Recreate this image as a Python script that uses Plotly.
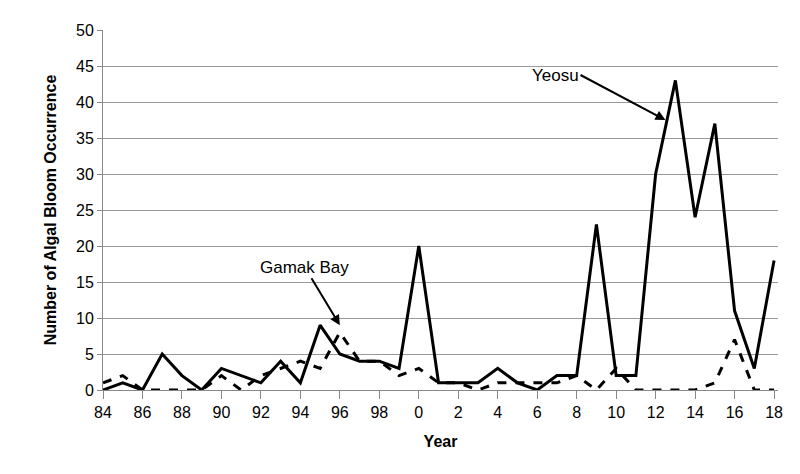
import plotly.graph_objects as go

years = list(range(1984, 2019))
yeosu = [0,1,0,5,2,0,3,2,1,4,1,9,5,4,4,3,20,1,1,1,3,1,0,2,2,23,2,2,30,43,24,37,11,3,18]
gamak = [1,2,0,0,0,0,2,0,2,3,4,3,8,4,4,2,3,1,1,0,1,1,1,1,2,0,3,0,0,0,0,1,7,0,0]
tick_years = list(range(1984, 2019, 2))
tick_labels = [str(y % 100) for y in tick_years]

fig = go.Figure()
fig.add_trace(go.Scatter(x=years, y=yeosu, mode="lines", name="Yeosu",
                         line=dict(color="black", width=3)))
fig.add_trace(go.Scatter(x=years, y=gamak, mode="lines", name="Gamak Bay",
                         line=dict(color="black", width=3, dash="dash")))
font = dict(family="Liberation Sans, Arial", color="black")
fig.add_annotation(x=2012.5, y=37.5, ax=-85, ay=-45, text="Yeosu", showarrow=True,
                   arrowhead=2, arrowwidth=2, arrowsize=1, arrowcolor="black",
                   xanchor="right", font=dict(size=17, **font))
fig.add_annotation(x=1996, y=9, ax=-35, ay=-58, text="Gamak Bay", showarrow=True,
                   arrowhead=2, arrowwidth=2, arrowsize=1, arrowcolor="black",
                   font=dict(size=17, **font))
fig.update_layout(width=800, height=474, showlegend=False,
                  plot_bgcolor="white", paper_bgcolor="white",
                  margin=dict(l=95, r=30, t=22, b=92), font=dict(size=16, **font))
fig.update_xaxes(range=[1984, 2018.2], tickvals=tick_years, ticktext=tick_labels,
                 showgrid=False, showline=True, linecolor="#888", ticks="outside",
                 tickcolor="#888", ticklen=8,
                 title=dict(text="<b>Year</b>", font=dict(size=16)))
fig.update_yaxes(range=[0, 50], dtick=5, gridcolor="#999", showline=True,
                 linecolor="#888", ticks="outside", tickcolor="#888", ticklen=5,
                 zeroline=False,
                 title=dict(text="<b>Number of Algal Bloom Occurrence</b>", font=dict(size=16)))
fig.write_html("out.html")
